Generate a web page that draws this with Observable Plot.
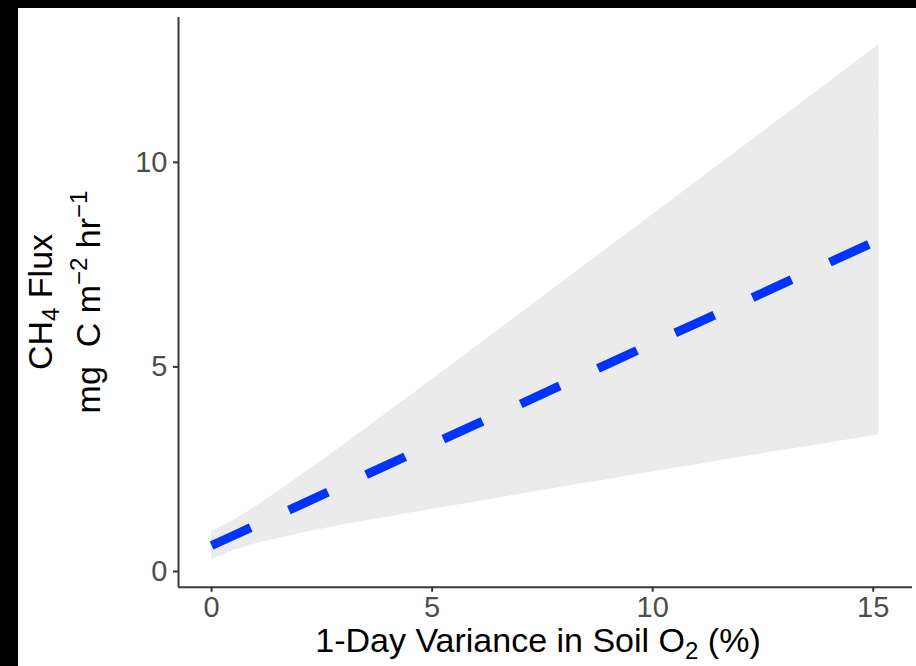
<!DOCTYPE html>
<html>
<head>
<meta charset="utf-8">
<script src="https://cdn.jsdelivr.net/npm/d3@7"></script>
<script src="https://cdn.jsdelivr.net/npm/@observablehq/plot@0.6"></script>
<style>
  html, body { margin: 0; padding: 0; background: #000; }
  #chart { position: absolute; left: 18px; top: 8px; width: 898px; height: 658px; background: #fff; }
  #chart svg { display: block; }
</style>
</head>
<body>
<div id="chart"></div>
<script>
// 1-Day variance in soil O2 (%) sample points
const variance = [0, 0.5, 1, 2, 3, 4, 5, 6, 7, 8, 9, 10, 11, 12, 13, 14, 15.13];
// fitted CH4 flux (dashed line)
const fluxFit = [0.635, 0.88, 1.13, 1.62, 2.12, 2.61, 3.11, 3.60, 4.09, 4.59, 5.08, 5.58, 6.07, 6.56, 7.06, 7.55, 8.11];
// confidence band
const fluxLower = [0.28, 0.52, 0.68, 0.93, 1.14, 1.33, 1.52, 1.70, 1.89, 2.07, 2.25, 2.43, 2.61, 2.79, 2.97, 3.14, 3.34];
const fluxUpper = [0.97, 1.25, 1.58, 2.32, 3.10, 3.89, 4.69, 5.50, 6.30, 7.11, 7.92, 8.72, 9.53, 10.34, 11.15, 11.96, 12.88];

const xTicks = [0, 5, 10, 15];
const yTicks = [0, 5, 10];
const xDomain = [-0.75, 15.89];
const yDomain = [-0.384, 13.54];

const data = variance.map((x, i) => ({x, fit: fluxFit[i], lo: fluxLower[i], hi: fluxUpper[i]}));

const font = "'Liberation Sans', Arial, sans-serif";

const plot = Plot.plot({
  width: 898,
  height: 658,
  marginLeft: 160,
  marginRight: 4,
  marginTop: 9,
  marginBottom: 79.3,
  x: {domain: xDomain, axis: null},
  y: {domain: yDomain, axis: null},
  style: {fontFamily: font, background: "#fff"},
  marks: [
    Plot.areaY(data, {x: "x", y1: "lo", y2: "hi", fill: "#ebebeb"}),
    Plot.line(data, {x: "x", y: "fit", stroke: "#0033ff", strokeWidth: 9, strokeDasharray: "43 42", strokeLinecap: "butt"}),
    Plot.ruleX([xDomain[0]], {stroke: "#3a3a3a", strokeWidth: 2}),
    Plot.ruleY([yDomain[0]], {stroke: "#3a3a3a", strokeWidth: 2}),
    Plot.axisY({ticks: yTicks, tickSize: 5, tickPadding: 6, fontSize: 29, fill: "#4d4d4d", stroke: "#333", strokeWidth: 2, label: null}),
    Plot.axisX({ticks: xTicks, tickSize: 5, tickPadding: 4, fontSize: 29, fill: "#4d4d4d", stroke: "#333", strokeWidth: 2, label: null})
  ]
});

document.getElementById("chart").appendChild(plot);

const svg = d3.select(plot);

// x-axis title with subscript
const xt = svg.append("text")
  .attr("x", 520).attr("y", 644)
  .attr("text-anchor", "middle")
  .attr("font-family", font).attr("font-size", 34).attr("fill", "#000")
  .style("white-space", "pre");
xt.append("tspan").text("1-Day Variance in Soil O");
xt.append("tspan").attr("font-size", 24).attr("dy", 7).text("2");
xt.append("tspan").attr("dy", -7).text(" (%)");

// y-axis title (two lines, rotated)
const yg = svg.append("g").attr("transform", "translate(0,294) rotate(-90)");
const y1 = yg.append("text")
  .attr("x", 0).attr("y", 34)
  .attr("text-anchor", "middle")
  .attr("font-family", font).attr("font-size", 34).attr("fill", "#000")
  .style("white-space", "pre");
y1.append("tspan").text("CH");
y1.append("tspan").attr("font-size", 24).attr("dy", 7).text("4");
y1.append("tspan").attr("dy", -7).text(" Flux");

const y2 = yg.append("text")
  .attr("x", 0).attr("y", 82)
  .attr("text-anchor", "middle")
  .attr("font-family", font).attr("font-size", 34).attr("fill", "#000")
  .style("white-space", "pre");
y2.append("tspan").text("mg  C m");
y2.append("tspan").attr("font-size", 24).attr("dy", -13).text("\u22122");
y2.append("tspan").attr("dy", 13).text(" hr");
y2.append("tspan").attr("font-size", 24).attr("dy", -13).text("\u22121");
</script>
</body>
</html>
